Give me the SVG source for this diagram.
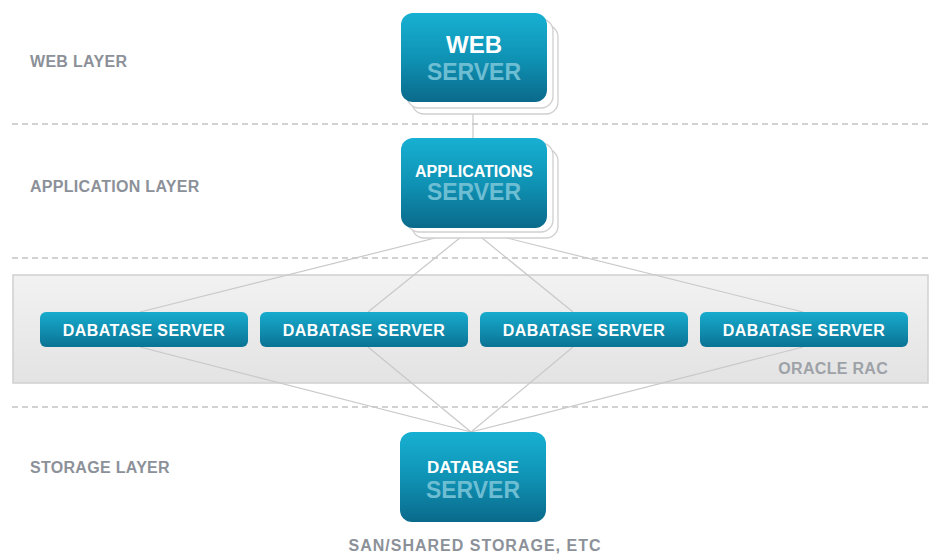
<svg xmlns="http://www.w3.org/2000/svg" width="930" height="554" viewBox="0 0 930 554">
  <defs>
    <linearGradient id="tealBig" x1="0" y1="0" x2="0" y2="1">
      <stop offset="0" stop-color="#17b0d2"/>
      <stop offset="0.5" stop-color="#0f93b5"/>
      <stop offset="1" stop-color="#0a6a8b"/>
    </linearGradient>
    <linearGradient id="tealBar" x1="0" y1="0" x2="0" y2="1">
      <stop offset="0" stop-color="#17acce"/>
      <stop offset="1" stop-color="#0b7394"/>
    </linearGradient>
    <linearGradient id="racFill" x1="0" y1="0" x2="0" y2="1">
      <stop offset="0" stop-color="#f2f2f2"/>
      <stop offset="1" stop-color="#e3e3e3"/>
    </linearGradient>
    <style>
      .layer { font-family: "Liberation Sans", Arial, sans-serif; font-weight: bold; font-size: 16px; letter-spacing: 0.3px; fill: #8c9199; }
      .divider { stroke: #c4c4c4; stroke-width: 1.3; stroke-dasharray: 6 4; fill: none; }
      .back { fill: #ffffff; stroke: #cfcfcf; stroke-width: 1.3; }
      .big { fill: url(#tealBig); }
      .bar { fill: url(#tealBar); }
      .t1 { font-family: "Liberation Sans", Arial, sans-serif; font-weight: bold; fill: #ffffff; text-anchor: middle; }
      .t2 { font-family: "Liberation Sans", Arial, sans-serif; font-weight: bold; fill: #6dbdd3; text-anchor: middle; font-size: 23px; }
      .bartext { font-family: "Liberation Sans", Arial, sans-serif; font-weight: bold; font-size: 16px; letter-spacing: 0.4px; fill: #ffffff; text-anchor: middle; }
      .link { stroke: #c9c9c9; stroke-width: 1.2; fill: none; }
    </style>
  </defs>

  <rect width="930" height="554" fill="#ffffff"/>

  <!-- layer dividers -->
  <g id="dividers">
    <line class="divider" x1="12" y1="124" x2="930" y2="124"/>
    <line class="divider" x1="12" y1="258" x2="930" y2="258"/>
    <line class="divider" x1="12" y1="407" x2="930" y2="407"/>
  </g>

  <!-- layer captions -->
  <g id="layer-labels">
    <text class="layer" x="30" y="67">WEB LAYER</text>
    <text class="layer" x="30" y="192">APPLICATION LAYER</text>
    <text class="layer" x="30" y="473">STORAGE LAYER</text>
  </g>

  <!-- RAC cluster panel -->
  <g id="oracle-rac">
    <rect x="13" y="275" width="915" height="108" fill="url(#racFill)" stroke="#d0d0d0" stroke-width="1.5"/>
    <text class="layer" x="888" y="374" text-anchor="end" style="fill:#9ea2a8">ORACLE RAC</text>
  </g>

  <!-- connectors -->
  <g id="connectors">
    <line class="link" x1="473" y1="102" x2="473" y2="138"/>
    <line class="link" x1="471" y1="229" x2="140" y2="312"/>
    <line class="link" x1="471" y1="229" x2="368" y2="312"/>
    <line class="link" x1="471" y1="229" x2="573" y2="312"/>
    <line class="link" x1="471" y1="229" x2="803" y2="312"/>
    <line class="link" x1="140" y1="347" x2="471" y2="432"/>
    <line class="link" x1="368" y1="347" x2="471" y2="432"/>
    <line class="link" x1="573" y1="347" x2="471" y2="432"/>
    <line class="link" x1="803" y1="347" x2="471" y2="432"/>
  </g>

  <!-- web server -->
  <g id="web-server">
    <rect class="back" x="412" y="25" width="146" height="89" rx="12"/>
    <rect class="back" x="407" y="19" width="146" height="89" rx="12"/>
    <rect class="big" x="401" y="13" width="146" height="89" rx="12"/>
    <text class="t1" x="474" y="53" font-size="24">WEB</text>
    <text class="t2" x="474" y="80">SERVER</text>
  </g>

  <!-- application server -->
  <g id="app-server">
    <rect class="back" x="412" y="149" width="146" height="89" rx="12"/>
    <rect class="back" x="407" y="143" width="146" height="89" rx="12"/>
    <rect class="big" x="401" y="138" width="146" height="90" rx="12"/>
    <text class="t1" x="474" y="177" font-size="16">APPLICATIONS</text>
    <text class="t2" x="474" y="200">SERVER</text>
  </g>

  <!-- database cluster nodes -->
  <g id="db-node-1">
    <rect class="bar" x="40" y="312" width="208" height="35" rx="6"/>
    <text class="bartext" x="144" y="336">DABATASE SERVER</text>
  </g>
  <g id="db-node-2">
    <rect class="bar" x="260" y="312" width="208" height="35" rx="6"/>
    <text class="bartext" x="364" y="336">DABATASE SERVER</text>
  </g>
  <g id="db-node-3">
    <rect class="bar" x="480" y="312" width="208" height="35" rx="6"/>
    <text class="bartext" x="584" y="336">DABATASE SERVER</text>
  </g>
  <g id="db-node-4">
    <rect class="bar" x="700" y="312" width="208" height="35" rx="6"/>
    <text class="bartext" x="804" y="336">DABATASE SERVER</text>
  </g>

  <!-- storage server -->
  <g id="storage-server">
    <rect class="big" x="400" y="432" width="146" height="90" rx="12"/>
    <text class="t1" x="473" y="473" font-size="17">DATABASE</text>
    <text class="t2" x="473" y="498">SERVER</text>
    <text class="layer" x="475" y="551" text-anchor="middle" style="font-size:16px;letter-spacing:1px">SAN/SHARED STORAGE, ETC</text>
  </g>
</svg>
